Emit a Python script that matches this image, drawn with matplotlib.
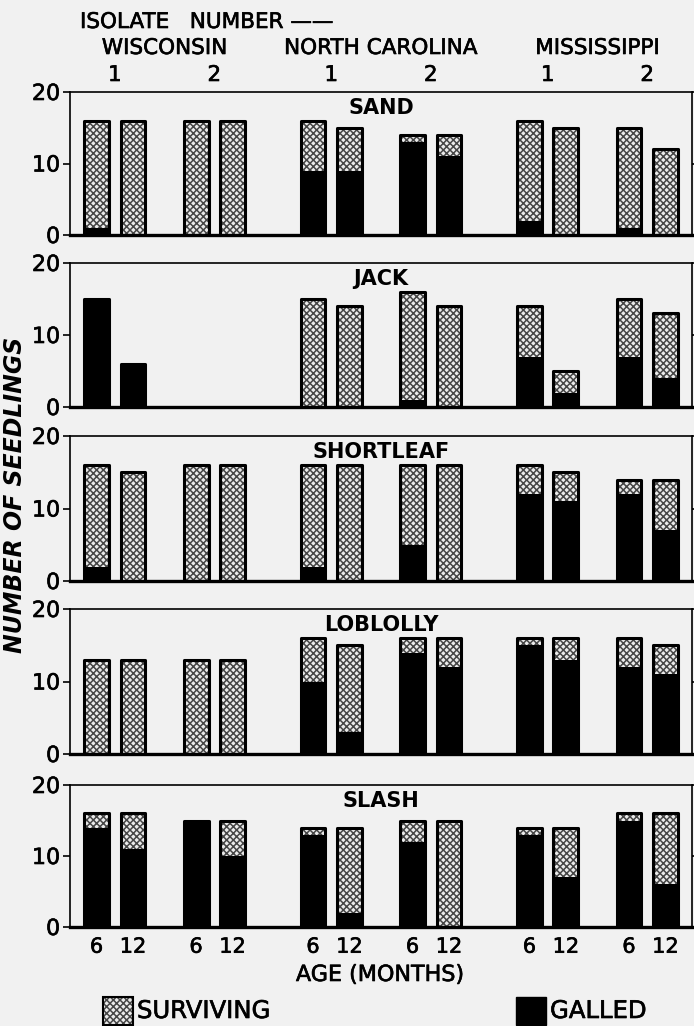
import matplotlib
matplotlib.use("Agg")
import matplotlib.pyplot as plt
import matplotlib.patheffects as pe
from matplotlib.patches import Rectangle
from matplotlib.transforms import blended_transform_factory
import numpy as np

plt.rcParams['font.family'] = ['DejaVu Sans']
plt.rcParams['hatch.linewidth'] = 1.1

# ---------------- data ----------------
states = ["WISCONSIN", "NORTH CAROLINA", "MISSISSIPPI"]
isolates = ["1", "2"]
ages = ["6", "12"]
hosts = ["SAND", "JACK", "SHORTLEAF", "LOBLOLLY", "SLASH"]

# bar order in every panel:
# WI-1 6, WI-1 12, WI-2 6, WI-2 12, NC-1 6, NC-1 12, NC-2 6, NC-2 12, MS-1 6, MS-1 12, MS-2 6, MS-2 12
sand_total = [16, 16, 16, 16, 16, 15, 14, 14, 16, 15, 15, 12]
sand_galled = [1, 0, 0, 0, 9, 9, 13, 11, 2, 0, 1, 0]
jack_total = [15, 6, 0, 0, 15, 14, 16, 14, 14, 5, 15, 13]
jack_galled = [15, 6, 0, 0, 0, 0, 1, 0, 7, 2, 7, 4]
shortleaf_total = [16, 15, 16, 16, 16, 16, 16, 16, 16, 15, 14, 14]
shortleaf_galled = [2, 0, 0, 0, 2, 0, 5, 0, 12, 11, 12, 7]
loblolly_total = [13, 13, 13, 13, 16, 15, 16, 16, 16, 16, 16, 15]
loblolly_galled = [0, 0, 0, 0, 10, 3, 14, 12, 15, 13, 12, 11]
slash_total = [16, 16, 15, 15, 14, 14, 15, 15, 14, 14, 16, 16]
slash_galled = [14, 11, 15, 10, 13, 2, 12, 0, 13, 7, 15, 6]

totals = [sand_total, jack_total, shortleaf_total, loblolly_total, slash_total]
galleds = [sand_galled, jack_galled, shortleaf_galled, loblolly_galled, slash_galled]

# ---------------- layout ----------------
W, H = 694, 1026
fig = plt.figure(figsize=(W / 100, H / 100), dpi=100)
bg = '#f1f1f1'
fig.patch.set_facecolor(bg)
thick = [pe.withStroke(linewidth=0.45, foreground='black')]

panel_px = [(92, 235), (263, 407), (436, 581), (609, 754), (785, 927)]
left_px, right_px = 70, 692

n_states = len(states)
n_iso = len(isolates)
state_gap = 0.175
pair_centers = []
for s in range(n_states):
    for i in range(n_iso):
        pair_centers.append(s * n_iso + i + s * state_gap)
pair_centers = np.array(pair_centers)
offset = 0.183
bar_x = np.ravel([[c - offset, c + offset] for c in pair_centers])
bar_w = 0.25

hatch_face = '#ebebeb'
hatch_col = '#464646'
HATCH = 'xxxxx'

axes = []
for k, host in enumerate(hosts):
    top, bot = panel_px[k]
    ax = fig.add_axes([left_px / W, 1 - bot / H, (right_px - left_px) / W, (bot - top) / H])
    ax.set_facecolor(bg)
    tot = np.array(totals[k], dtype=float)
    gal = np.array(galleds[k], dtype=float)
    m = tot > 0
    ax.bar(bar_x[m], gal[m], width=bar_w, color='black', edgecolor='black', linewidth=0, zorder=2)
    ax.bar(bar_x[m], (tot - gal)[m], bottom=gal[m], width=bar_w, color=hatch_face,
           edgecolor=hatch_col, hatch=HATCH, linewidth=0, zorder=2)
    ax.bar(bar_x[m], tot[m], width=bar_w, fill=False, edgecolor='black', linewidth=2.2,
           joinstyle='round', zorder=3)
    ax.set_ylim(0, 20)
    ax.set_xlim(-0.45, 5.80)
    ax.set_yticks([0, 10, 20])
    ax.set_yticklabels(['0', '10', '20'], fontsize=16)
    ax.tick_params(axis='y', direction='out', length=5, width=1.2, pad=2, right=True)
    for lab in ax.get_yticklabels():
        lab.set_path_effects(thick)
    for side in ['top', 'left', 'right']:
        ax.spines[side].set_linewidth(1.2)
    ax.spines['bottom'].set_linewidth(2.4)
    ax.text(0.5, 1 - 16 / (bot - top), host, transform=ax.transAxes, ha='center', va='center',
            fontsize=15, fontweight='bold')
    if k == len(hosts) - 1:
        ax.set_xticks(bar_x)
        ax.set_xticklabels(ages * (n_states * n_iso), fontsize=15)
        ax.tick_params(axis='x', length=0, pad=7)
        for lab in ax.get_xticklabels():
            lab.set_path_effects(thick)
    else:
        ax.set_xticks([])
    axes.append(ax)

# ---------------- header ----------------
top_ax = axes[0]
tr = blended_transform_factory(top_ax.transData, fig.transFigure)
fig.text(80 / W, 1 - 22 / H, "ISOLATE   NUMBER \u2014\u2014", ha='left', va='center',
         fontsize=15.5, path_effects=thick)
for s, name in enumerate(states):
    cx = (pair_centers[s * 2] + pair_centers[s * 2 + 1]) / 2
    top_ax.text(cx, 1 - 48 / H, name, transform=tr, ha='center', va='center', fontsize=15.5,
                path_effects=thick)
    for i, iso in enumerate(isolates):
        top_ax.text(pair_centers[s * 2 + i], 1 - 75 / H, iso, transform=tr, ha='center',
                    va='center', fontsize=15.5, path_effects=thick)

# ---------------- axis labels ----------------
fig.text(380 / W, 1 - 975 / H, "AGE (MONTHS)", ha='center', va='center', fontsize=16,
         path_effects=thick)
fig.text(15 / W, 1 - 495 / H, "NUMBER OF SEEDLINGS", rotation=90, ha='center', va='center',
         fontsize=17, fontweight='bold', style='italic')

# ---------------- legend ----------------
sw, sh = 30 / W, 28 / H
fig.add_artist(Rectangle((103 / W, 1 - 1025 / H), sw, sh, transform=fig.transFigure,
                         facecolor=hatch_face, edgecolor=hatch_col, hatch=HATCH, linewidth=0))
fig.add_artist(Rectangle((103 / W, 1 - 1025 / H), sw, sh, transform=fig.transFigure,
                         fill=False, edgecolor='black', linewidth=1.5))
fig.text(137 / W, 1 - 1011 / H, "SURVIVING", ha='left', va='center', fontsize=17.5,
         path_effects=thick)
fig.add_artist(Rectangle((516 / W, 1 - 1025 / H), sw, sh, transform=fig.transFigure,
                         facecolor='black', edgecolor='black', linewidth=1))
fig.text(550 / W, 1 - 1011 / H, "GALLED", ha='left', va='center', fontsize=17.5,
         path_effects=thick)

fig.savefig("out.png", dpi=100, facecolor=bg)
